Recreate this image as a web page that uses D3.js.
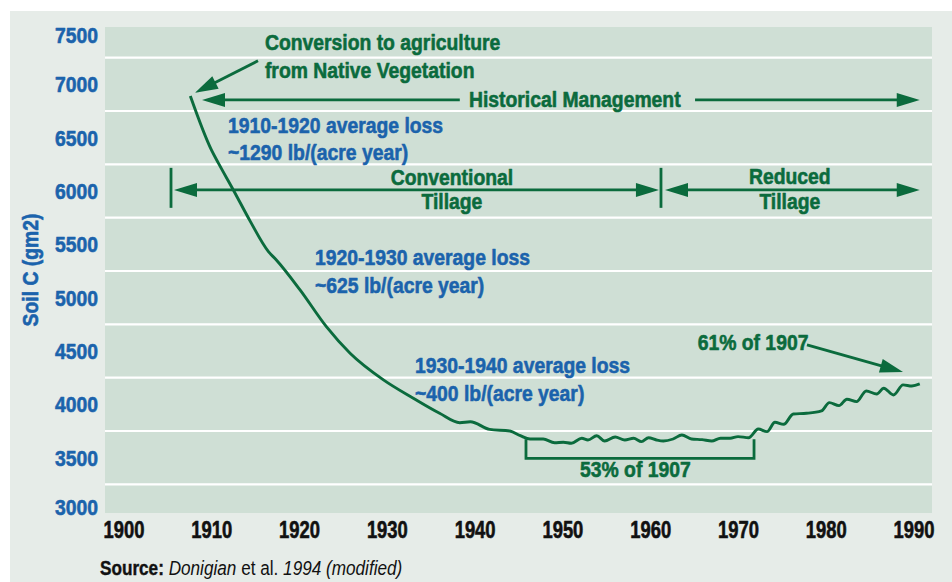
<!DOCTYPE html>
<html><head><meta charset="utf-8">
<script src="https://cdn.jsdelivr.net/npm/d3@7"></script>
<style>
body{margin:0;background:#fff}
text{font-family:"Liberation Sans",Arial,Helvetica,sans-serif;font-weight:bold}
text.heavy{stroke-width:0.6px;stroke-linejoin:round}
</style>
</head><body><svg id="c" width="952" height="582"></svg>
<script>
// ---- data ----
const years = [1907.1,1909.5,1910.3,1912.0,1913.9,1916.0,1916.9,1919.6,1922.6,1925.3,1929.1,1932.5,1935.5,1937.8,1939.0,1941.2,1943.5,1944.7,1945.8,1947.3,1948.6,1949.6,1950.5,1951.7,1952.4,1953.4,1954.3,1955.5,1956.6,1957.6,1958.5,1959.3,1960.2,1961.0,1962.1,1963.1,1964.2,1965.4,1966.5,1967.5,1968.6,1969.5,1970.7,1971.8,1972.8,1973.7,1974.7,1975.8,1977.3,1979.0,1979.9,1981.0,1981.9,1983.0,1984.1,1985.3,1986.1,1987.2,1988.3,1989.3,1990.2];
const soilC = [6890,6385,6261,6010,5720,5432,5354,5073,4728,4479,4229,4057,3916,3828,3837,3765,3750,3706,3675,3675,3640,3644,3635,3682,3666,3706,3656,3694,3666,3682,3650,3687,3666,3656,3675,3713,3675,3669,3656,3682,3682,3697,3687,3769,3744,3832,3813,3910,3916,3938,4016,3988,4048,4025,4125,4097,4151,4088,4182,4172,4191];
const xTicks = [1900,1910,1920,1930,1940,1950,1960,1970,1980,1990];
const yTicks = [3000,3500,4000,4500,5000,5500,6000,6500,7000,7500];
const gridValues = [3250,3750,4250,4750,5250,5750,6250,6750,7250];
const yTitle = "Soil C (gm2)";

const GREEN = "#0b6b3d", BLUE = "#1b63ac";
const SX = 0.86; // condensed look
const svg = d3.select("#c");
const x = d3.scaleLinear().domain([1900,1990]).range([128,918]);
const y = d3.scaleLinear().domain([3000,7500]).range([511,31]);

function ctext(parent,px,py,txt,anchor,color,size,sx){
  return parent.append("text").attr("class","heavy")
    .attr("transform",`translate(${px},${py}) scale(${sx||SX},1)`)
    .attr("text-anchor",anchor||"start").attr("fill",color).attr("stroke",color)
    .attr("font-size",size).text(txt);
}

// backgrounds
svg.append("rect").attr("x",10).attr("y",11).attr("width",942).attr("height",571).attr("fill","#e6ece8");
svg.append("rect").attr("x",105).attr("y",27).attr("width",827).attr("height",486).attr("fill","#cfdfd5");

// grid
svg.append("g").selectAll("line").data(gridValues).join("line")
  .attr("x1",105).attr("x2",932).attr("y1",d=>y(d)).attr("y2",d=>y(d))
  .attr("stroke","#fff").attr("stroke-width",2.2);

// y tick labels
const gy = svg.append("g");
yTicks.forEach(d=>{
  ctext(gy,98,Math.max(35,Math.min(507,y(d)))+8,d,"end",BLUE,22.5);
});

// x tick labels
const gx = svg.append("g");
xTicks.forEach(d=>{
  ctext(gx,x(d)-4,538,d,"middle","#111",23,0.8);
});

// y title
svg.append("text").attr("class","heavy").attr("transform","translate(38,270) rotate(-90) scale(0.86,1)")
  .attr("text-anchor","middle").attr("font-size",22.5).attr("fill",BLUE).attr("stroke",BLUE).text(yTitle);

// curve
const pts = years.map((yr,i)=>[yr,soilC[i]]);
svg.append("path").datum(pts)
  .attr("d",d3.line().x(d=>x(d[0])).y(d=>y(d[1])).curve(d3.curveMonotoneX))
  .attr("fill","none").attr("stroke",GREEN).attr("stroke-width",2.9).attr("stroke-linejoin","round");

// annotation helpers (positions in data units)
const ann = svg.append("g");
function head(x1,y1,x2,y2){ // arrow head with tip at x2,y2
  const dx=x2-x1, dy=y2-y1, L=Math.hypot(dx,dy), ux=dx/L, uy=dy/L, hl=23, hw=7;
  const bx=x2-ux*hl, by=y2-uy*hl;
  ann.append("path").attr("d",`M${x2},${y2}L${bx-uy*hw},${by+ux*hw}L${bx+uy*hw},${by-ux*hw}Z`).attr("fill",GREEN);
}
function arrow(a,b,startHead,endHead){
  let x1=x(a[0]),y1=y(a[1]),x2=x(b[0]),y2=y(b[1]);
  const dx=x2-x1, dy=y2-y1, L=Math.hypot(dx,dy), ux=dx/L, uy=dy/L;
  const s=startHead?15:0, e=endHead?15:0;
  ann.append("line").attr("x1",x1+ux*s).attr("y1",y1+uy*s).attr("x2",x2-ux*e).attr("y2",y2-uy*e)
    .attr("stroke",GREEN).attr("stroke-width",2.8);
  if(endHead) head(x1,y1,x2,y2);
  if(startHead) head(x2,y2,x1,y1);
}
function vtick(yr,v1,v2){
  ann.append("line").attr("x1",x(yr)).attr("x2",x(yr)).attr("y1",y(v1)).attr("y2",y(v2))
    .attr("stroke",GREEN).attr("stroke-width",2.8);
}
function label(txt,yr,v,anchor,color){
  ctext(ann,x(yr),y(v),txt,anchor,color,22.5);
}

// conversion arrow
arrow([1914.81,7220],[1907.63,6920],false,true);
label("Conversion to agriculture",1915.6,7323,"start",GREEN);
label("from Native Vegetation",1915.6,7061,"start",GREEN);

// historical management
arrow([1937.8,6854],[1908.43,6854],false,true);
arrow([1964.6,6854],[1990.2,6854],false,true);
label("Historical Management",1950.9,6790,"middle",GREEN);

// conventional / reduced tillage
vtick(1904.9,6217,5842);
arrow([1905.24,6010],[1960.49,6010],true,true);
vtick(1960.72,6217,5842);
arrow([1961.18,6010],[1990.2,6010],true,true);
label("Conventional",1936.9,6057,"middle",GREEN);
label("Tillage",1936.9,5832,"middle",GREEN);
label("Reduced",1975.4,6065,"middle",GREEN);
label("Tillage",1975.4,5832,"middle",GREEN);

// loss rates
label("1910-1920 average loss",1911.4,6545,"start",BLUE);
label("~1290 lb/(acre year)",1911.4,6292,"start",BLUE);
label("1920-1930 average loss",1921.3,5307,"start",BLUE);
label("~625 lb/(acre year)",1921.3,5044,"start",BLUE);
label("1930-1940 average loss",1932.7,4290,"start",BLUE);
label("~400 lb/(acre year)",1932.7,4032,"start",BLUE);

// 53% bracket
ann.append("path").attr("d",`M${x(1945.34)},${y(3672)}V${y(3494)}H${x(1971.32)}V${y(3672)}`)
  .attr("fill","none").attr("stroke",GREEN).attr("stroke-width",2.8);
label("53% of 1907",1957.8,3319,"middle",GREEN);

// 61% arrow
label("61% of 1907",1964.9,4510,"start",GREEN);
arrow([1977.35,4557],[1988.29,4304],false,true);

// source
const src = svg.append("text").attr("transform","translate(100,575) scale(0.88,1)").attr("font-size",19.5).attr("fill","#111");
src.append("tspan").attr("stroke","#111").attr("stroke-width",0.4).text("Source: ");
src.append("tspan").attr("font-weight","normal").attr("font-style","italic").text("Donigian");
src.append("tspan").attr("font-weight","normal").text(" et al. ");
src.append("tspan").attr("font-weight","normal").attr("font-style","italic").text("1994 (modified)");
</script>
</body></html>
